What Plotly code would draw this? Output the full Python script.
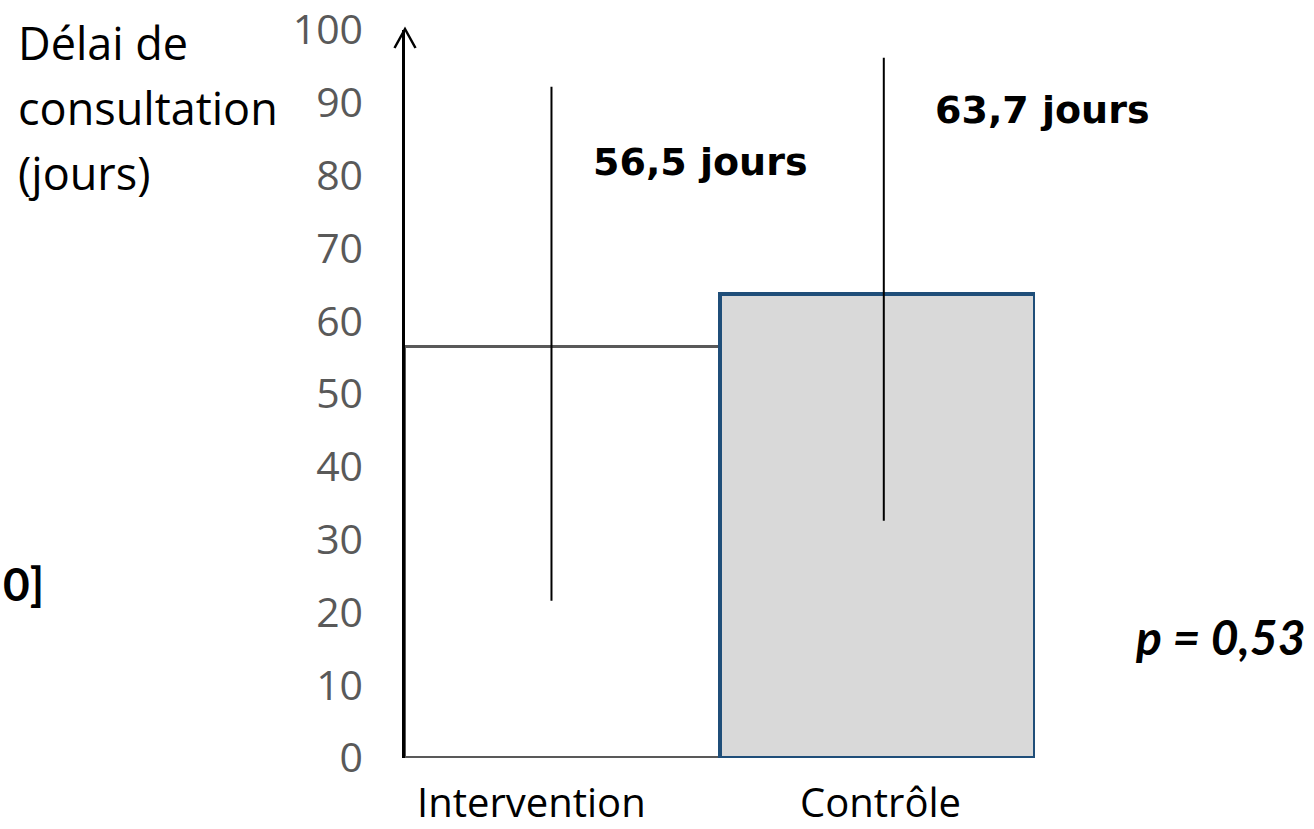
import plotly.graph_objects as go

# ---- data ----
categories = ["Intervention", "Contrôle"]
means = [56.5, 63.7]
upper = [92.2, 96.2]
lower = [21.6, 32.6]
y_ticks = [0, 10, 20, 30, 40, 50, 60, 70, 80, 90, 100]
y_title_lines = ["Délai de", "consultation", "(jours)"]
p_text = "p = 0,53"
side_text = "0]"

# ---- style ----
bar_fill = ["#ffffff", "#d9d9d9"]
bar_line = ["#595959", "#1f4e79"]
bar_line_w = [3, 4]
err_offset = [-0.035, 0.02]
label_offset = [-0.097, 0.011]
REG = "Open Sans"

W, H = 1314, 829
PW, PH = 630, 728
ML, MT = 405, 30
MR = W - ML - PW
MB = H - MT - PH

def px2paper_x(px):
    return (px - ML) / PW

def py2paper_y(py):
    return (MT + PH - py) / PH

idx = list(range(len(categories)))

fig = go.Figure()
fig.add_trace(go.Bar(
    x=idx, y=means, width=1,
    marker=dict(color=bar_fill, line=dict(color=bar_line, width=bar_line_w)),
    cliponaxis=False, hoverinfo="skip", showlegend=False,
))
fig.add_trace(go.Scatter(
    x=[i + o for i, o in zip(idx, err_offset)], y=means, mode="markers",
    marker=dict(size=1, color="rgba(0,0,0,0)"),
    error_y=dict(type="data", symmetric=False,
                 array=[u - m for u, m in zip(upper, means)],
                 arrayminus=[m - l for m, l in zip(means, lower)],
                 width=0, thickness=2, color="#000000"),
    cliponaxis=False, hoverinfo="skip", showlegend=False,
))

annotations = []
# category labels
for i, (c, o) in enumerate(zip(categories, label_offset)):
    annotations.append(dict(x=i + o, y=py2paper_y(801), xref="x", yref="paper",
                            text=c, showarrow=False, xanchor="center", yanchor="middle",
                            borderpad=0,
                            font=dict(family=REG, size=40, color="#000000")))
# value labels
val_pos = [(700, 162), (1042, 110)]
for m, (px, py) in zip(means, val_pos):
    txt = f"{m:.1f}".replace(".", ",") + " jours"
    annotations.append(dict(x=px2paper_x(px), y=py2paper_y(py), xref="paper", yref="paper",
                            text=f"<b>{txt}</b>", showarrow=False, xanchor="center", yanchor="middle",
                            font=dict(family="DejaVu Sans", size=38, color="#000000")))
# y title (3 lines)
for line, py in zip(y_title_lines, [42, 108, 173]):
    annotations.append(dict(x=px2paper_x(16), y=py2paper_y(py), xref="paper", yref="paper",
                            text=line, showarrow=False, xanchor="left", yanchor="middle",
                            font=dict(family=REG, size=45, color="#000000")))
# p value
annotations.append(dict(x=px2paper_x(1220), y=py2paper_y(636), xref="paper", yref="paper",
                        text=f"<b><i>{p_text}</i></b>", showarrow=False, xanchor="center", yanchor="middle",
                        font=dict(family="Lato", size=48, color="#000000")))
# clipped side text
annotations.append(dict(x=px2paper_x(1), y=py2paper_y(583), xref="paper", yref="paper",
                        text=f"<b>{side_text}</b>", showarrow=False, xanchor="left", yanchor="middle",
                        font=dict(family="Lato", size=46, color="#000000")))

fig.update_layout(
    width=W, height=H,
    margin=dict(l=ML, r=MR, t=MT, b=MB, pad=0),
    paper_bgcolor="#ffffff", plot_bgcolor="#ffffff",
    bargap=0,
    showlegend=False,
    xaxis=dict(range=[-0.5, 1.5], showgrid=False, zeroline=False, showline=False,
               showticklabels=False, ticks="", fixedrange=True, automargin=False),
    yaxis=dict(range=[0, 100], tickvals=y_ticks, ticktext=[str(t) for t in y_ticks],
               showgrid=False, zeroline=False, showline=True, linecolor="#000000", linewidth=2.5,
               ticks="", ticklabelstandoff=31,
               tickfont=dict(family=REG, size=41, color="#595959"),
               fixedrange=True, automargin=False, layer="above traces"),
    annotations=annotations,
    shapes=[dict(type="path", xref="paper", yref="paper", xsizemode="pixel", ysizemode="pixel",
                 xanchor=0, yanchor=1,
                 path="M-10.5,-18 L0,1 L10.5,-18",
                 line=dict(color="#000000", width=2.5))],
)

fig.write_html("out.html", config={"displayModeBar": False},
               post_script="document.body.style.margin='0px';")
